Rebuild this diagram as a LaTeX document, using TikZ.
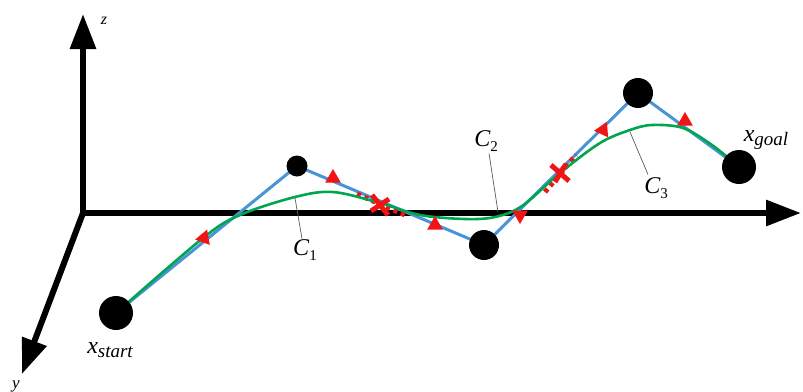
\documentclass[tikz,border=0pt]{standalone}
\usepackage{fontspec}
\setmainfont{Liberation Serif}
\usetikzlibrary{arrows.meta,shapes.geometric}
\definecolor{pathblue}{RGB}{72,148,214}
\definecolor{curvegreen}{RGB}{0,165,80}
\definecolor{markred}{RGB}{240,20,20}
\begin{document}
\begin{tikzpicture}[x=1pt,y=-1pt,
  axis/.style={line width=6pt,-{Triangle[length=35pt,width=25pt]}},
  pathline/.style={pathblue,line width=3pt},
  smoothcurve/.style={curvegreen,line width=2.6pt},
  waypoint/.style={circle,fill=black,inner sep=0pt},
  tri/.style={regular polygon,regular polygon sides=3,fill=markred,inner sep=0pt,minimum size=18pt},
  crossdash/.style={markred,line width=5pt,dash pattern=on 4pt off 4pt},
  crossbar/.style={markred,line width=5pt},
  leader/.style={gray!70!black,line width=0.7pt},
  lbl/.style={inner sep=0pt,font=\fontsize{24}{26}\selectfont\itshape}]
\useasboundingbox (0,0) rectangle (803,391);
% axes
\coordinate (O) at (83,213);
\coordinate (Zend) at (83,14);
\coordinate (Xend) at (801,213);
\coordinate (Yend) at (22,374);
\draw[axis] (O) -- (Zend);
\draw[axis] (O) -- (Xend);
\draw[axis,line join=miter] (O) -- (Yend);
\node[inner sep=0pt,font=\fontsize{16}{18}\selectfont\itshape] (zl) at (104,21) {z};
\node[inner sep=0pt,font=\fontsize{17}{18}\selectfont\itshape,anchor=north] (yl) at (16,380) {y};
% waypoints
\coordinate (s) at (116,313);
\coordinate (p1) at (297,166);
\coordinate (p2) at (484,245);
\coordinate (p3) at (638,93);
\coordinate (g) at (739,167);
% blue path
\draw[pathline,line join=round] (s) -- (p1) -- (p2) -- (p3) -- (g);
% red dashes along blue line
\draw[crossdash] (357,194) -- (405,215);
\draw[crossdash] (545,192) -- (576,155);
% green curve
\draw[smoothcurve] plot[smooth,tension=0.55] coordinates {(116,313) (203,238) (240,215) (295,197) (333,192) (380,203) (420,215) (465,219) (495,217) (522,206) (560,173) (600,143) (630,130) (652,125) (683,128) (712,145) (739,167)};
% crosses
\draw[crossbar] (372,195) -- (388,215);
\draw[crossbar] (371,211) -- (389,199);
\draw[crossbar] (551,165) -- (569,181);
\draw[crossbar] (555,182) -- (566,164);
% triangles
\node[tri,rotate=100] (t1) at (204,238) {};
\node[tri] (t2) at (333,178) {};
\node[tri] (t3) at (435,225) {};
\node[tri,rotate=180] (t4) at (520,215) {};
\node[tri,rotate=95] (t5) at (603,130) {};
\node[tri] (t6) at (685,121) {};
% waypoint discs
\node[waypoint,minimum size=34pt] (S) at (s) {};
\node[waypoint,minimum size=21pt] (P1) at (p1) {};
\node[waypoint,minimum size=30pt] (P2) at (p2) {};
\node[waypoint,minimum size=30pt] (P3) at (p3) {};
\node[waypoint,minimum size=34pt] (G) at (g) {};
% labels
\node[lbl] (xs) at (110,350) {x\raisebox{-0.35ex}{\fontsize{19}{20}\selectfont start}};
\node[lbl] (xg) at (766,140) {x\raisebox{-0.35ex}{\fontsize{19}{20}\selectfont goal}};
\node[lbl] (c1) at (305,250) {C\raisebox{-0.4ex}{\upshape\fontsize{15}{16}\selectfont 1}};
\node[lbl] (c2) at (486,141) {C\raisebox{-0.4ex}{\upshape\fontsize{15}{16}\selectfont 2}};
\node[lbl] (c3) at (656,188) {C\raisebox{-0.4ex}{\upshape\fontsize{15}{16}\selectfont 3}};
\coordinate (c1a) at (295,198);
\coordinate (c2a) at (498,212);
\coordinate (c3a) at (630,132);
\draw[leader] (c1.north) ++(-3,-1) coordinate (c1t) -- (c1a);
\draw[leader] (c2.south) ++(3,2) coordinate (c2t) -- (c2a);
\draw[leader] (c3.north) ++(-8,-3) coordinate (c3t) -- (c3a);
\end{tikzpicture}
\end{document}
